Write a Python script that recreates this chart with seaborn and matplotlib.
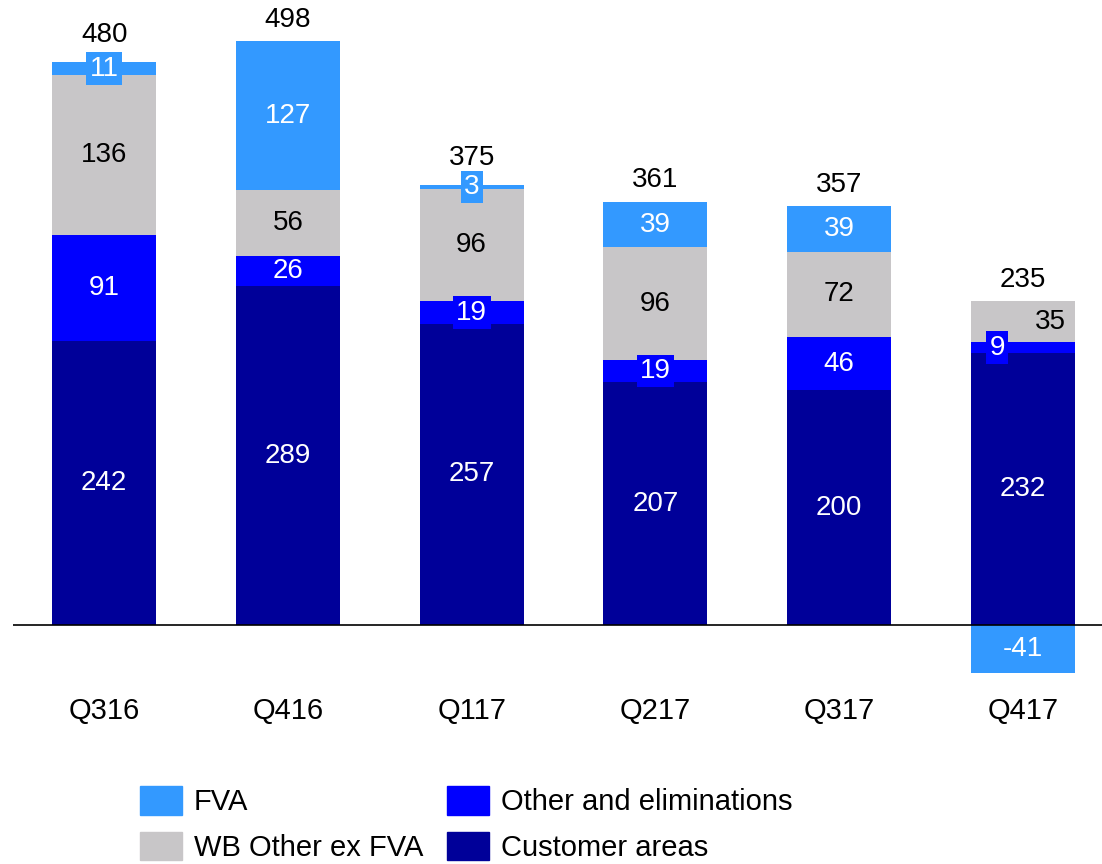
import pandas as pd
import matplotlib
matplotlib.use("Agg")
import matplotlib.pyplot as plt
import matplotlib.patches as mpatches
import seaborn as sns

# data
quarters = ["Q316", "Q416", "Q117", "Q217", "Q317", "Q417"]
customer_areas = [242, 289, 257, 207, 200, 232]
other_elim = [91, 26, 19, 19, 46, 9]
wb_other = [136, 56, 96, 96, 72, 35]
fva = [11, 127, 3, 39, 39, -41]
totals = [480, 498, 375, 361, 357, 235]

c_fva = "#3399FF"
c_wb = "#C8C6C8"
c_oth = "#0000FF"
c_cust = "#000099"

sns.set_theme(style="white")
plt.rcParams["font.family"] = ["Liberation Sans", "DejaVu Sans"]
plt.rcParams["text.color"] = "black"

fig = plt.figure(figsize=(11.02, 8.64), dpi=100)
ax = fig.add_axes([13 / 1102, 1 - 690 / 864, 1 - 13 / 1102, 690 / 864])

df = pd.DataFrame({"quarter": quarters, "cust": customer_areas, "oth": other_elim,
                   "wb": wb_other, "fva": fva})
b_oth = df["cust"]
b_wb = b_oth + df["oth"]
b_fva = [(b + w) if f >= 0 else 0 for b, w, f in zip(b_wb, df["wb"], df["fva"])]
tops = b_wb + df["wb"] + df["fva"].clip(lower=0)

w = 0.566
kw = dict(saturation=1, width=w, linewidth=0, ax=ax)
sns.barplot(data=df, x="quarter", y="cust", color=c_cust, **kw)
sns.barplot(data=df, x="quarter", y="oth", bottom=b_oth, color=c_oth, **kw)
sns.barplot(data=df, x="quarter", y="wb", bottom=b_wb, color=c_wb, **kw)
sns.barplot(data=df, x="quarter", y="fva", bottom=b_fva, color=c_fva, **kw)

fs = 20
for i in range(len(quarters)):
    # customer areas
    ax.text(i, customer_areas[i] / 2, str(customer_areas[i]), ha="center", va="center",
            color="white", fontsize=fs)
    # other and eliminations
    dx = -0.14 if i == len(quarters) - 1 else 0
    small = other_elim[i] < 25
    ax.text(i + dx, b_oth[i] + other_elim[i] / 2, str(other_elim[i]), ha="center", va="center",
            color="white", fontsize=fs,
            bbox=dict(boxstyle="square,pad=0.12", fc=c_oth, ec="none") if small else None)
    # wb other
    dx = 0.15 if i == len(quarters) - 1 else 0
    ax.text(i + dx, b_wb[i] + wb_other[i] / 2, str(wb_other[i]), ha="center", va="center",
            color="black", fontsize=fs)
    # fva
    small = abs(fva[i]) < 15
    ax.text(i, b_fva[i] + fva[i] / 2, str(fva[i]), ha="center", va="center",
            color="white", fontsize=fs,
            bbox=dict(boxstyle="square,pad=0.12", fc=c_fva, ec="none") if small else None)
    # total
    extra = 4 if small else 0
    ax.annotate(str(totals[i]), (i, tops[i]), xytext=(0, 6 + extra), textcoords="offset points",
                ha="center", va="bottom", color="black", fontsize=fs)

ax.axhline(0, color="black", lw=1.2)
ax.set_xlim(-0.496, 5.43)
ax.set_ylim(-55.4, 533)
ax.set_xlabel("")
ax.set_ylabel("")
ax.set_yticks([])
ax.tick_params(axis="x", length=0, pad=5, labelsize=21, labelcolor="black")
for s in ax.spines.values():
    s.set_visible(False)

handles = [mpatches.Patch(color=c_fva, label="FVA"),
           mpatches.Patch(color=c_wb, label="WB Other ex FVA"),
           mpatches.Patch(color=c_oth, label="Other and eliminations"),
           mpatches.Patch(color=c_cust, label="Customer areas")]
fig.legend(handles=handles, ncol=2, loc="upper left", bbox_to_anchor=(140 / 1102, 1 - 786 / 864),
           frameon=False, fontsize=21, handlelength=1.45, handleheight=1.15,
           handletextpad=0.4, labelspacing=0.52, columnspacing=0.8, borderpad=0, borderaxespad=0,
           labelcolor="black")

fig.savefig("out.png", dpi=100)
